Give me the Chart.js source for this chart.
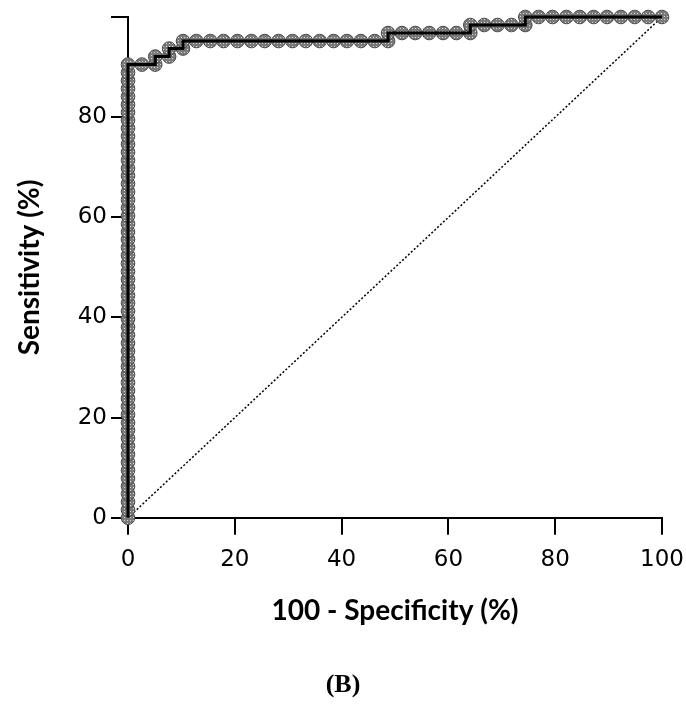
<!DOCTYPE html>
<html>
<head>
<meta charset="utf-8">
<script src="https://cdn.jsdelivr.net/npm/chart.js@4"></script>
<style>
  html, body { margin: 0; padding: 0; background: #fff; }
</style>
</head>
<body>
<canvas id="roc" width="686" height="724"></canvas>
<script>
// ROC curve points: 100 - specificity (%) and sensitivity (%)
const fpr = [
    0, 0, 0, 0, 0, 0, 0, 0, 0, 0,
    0, 0, 0, 0, 0, 0, 0, 0, 0, 0,
    0, 0, 0, 0, 0, 0, 0, 0, 0, 0,
    0, 0, 0, 0, 0, 0, 0, 0, 0, 0,
    0, 0, 0, 0, 0, 0, 0, 0, 0, 0,
    0, 0, 0, 0, 0, 0, 0, 0,
    2.6, 5.1, 5.1, 7.7, 7.7, 10.3, 10.3,
    12.8, 15.4, 17.9, 20.5, 23.1, 25.6, 28.2, 30.8, 33.3, 35.9, 38.5, 41.0, 43.6, 46.2, 48.7,
    48.7, 51.3, 53.8, 56.4, 59.0, 61.5, 64.1,
    64.1, 66.7, 69.2, 71.8, 74.4,
    74.4, 76.9, 79.5, 82.1, 84.6, 87.2, 89.7, 92.3, 94.9, 97.4, 100
];
const tpr = [
    0, 1.6, 3.2, 4.8, 6.3, 7.9, 9.5, 11.1, 12.7, 14.3,
    15.9, 17.5, 19.0, 20.6, 22.2, 23.8, 25.4, 27.0, 28.6, 30.2,
    31.7, 33.3, 34.9, 36.5, 38.1, 39.7, 41.3, 42.9, 44.4, 46.0,
    47.6, 49.2, 50.8, 52.4, 54.0, 55.6, 57.1, 58.7, 60.3, 61.9,
    63.5, 65.1, 66.7, 68.3, 69.8, 71.4, 73.0, 74.6, 76.2, 77.8,
    79.4, 81.0, 82.5, 84.1, 85.7, 87.3, 88.9, 90.5,
    90.5, 90.5, 92.1, 92.1, 93.7, 93.7, 95.2,
    95.2, 95.2, 95.2, 95.2, 95.2, 95.2, 95.2, 95.2, 95.2, 95.2, 95.2, 95.2, 95.2, 95.2, 95.2,
    96.8, 96.8, 96.8, 96.8, 96.8, 96.8, 96.8,
    98.4, 98.4, 98.4, 98.4, 98.4,
    100, 100, 100, 100, 100, 100, 100, 100, 100, 100, 100
];
// chance line
const diagX = [0, 100];
const diagY = [0, 100];

const BLACK = '#000';
const TICK_FONT = { family: 'DejaVu Sans', size: 23 };
const TITLE_FONT = { family: 'Lato', size: 28, weight: 'bold' };

// halftone grey fill for the markers
const tile = document.createElement('canvas');
tile.width = 3;
tile.height = 3;
const tctx = tile.getContext('2d');
tctx.fillStyle = '#7a7a7a';
tctx.fillRect(0, 0, 3, 3);
tctx.fillStyle = '#d8d8d8';
tctx.fillRect(1, 1, 1, 1);
const dotFill = tctx.createPattern(tile, 'repeat');

const rocPoints = fpr.map((x, i) => ({ x: x, y: tpr[i] }));
const diagPoints = diagX.map((x, i) => ({ x: x, y: diagY[i] }));

const data = {
    datasets: [
        {
            label: 'ROC line',
            data: rocPoints,
            showLine: true,
            borderColor: BLACK,
            borderWidth: 3,
            pointRadius: 0,
            clip: false,
        },
        {
            label: 'ROC points',
            data: rocPoints,
            showLine: false,
            pointRadius: 6.8,
            pointBackgroundColor: dotFill,
            pointBorderColor: '#4a4a4a',
            pointBorderWidth: 1,
            clip: false,
        },
        {
            label: 'Chance',
            data: diagPoints,
            showLine: true,
            borderColor: BLACK,
            borderWidth: 1.5,
            borderDash: [2, 2],
            pointRadius: 0,
            clip: false,
        }
    ]
};

const axisGrid = {
    drawOnChartArea: false,
    drawTicks: true,
    tickLength: 17,
    tickColor: BLACK,
    tickWidth: 2,
    lineWidth: 2,
};

const config = {
    type: 'scatter',
    data: data,
    options: {
        responsive: false,
        animation: false,
        devicePixelRatio: 1,
        layout: { padding: { top: 17, right: 0, left: 0, bottom: 0 } },
        plugins: {
            legend: { display: false },
            tooltip: { enabled: false },
            title: {
                display: true,
                position: 'bottom',
                text: '(B)',
                color: BLACK,
                font: { family: 'Liberation Serif', size: 26, weight: 'bold' },
                padding: { top: 42, bottom: 23 }
            }
        },
        scales: {
            x: {
                type: 'linear',
                min: 0,
                max: 100,
                ticks: { stepSize: 20, font: TICK_FONT, color: BLACK, padding: 11 },
                grid: axisGrid,
                border: { color: BLACK, width: 2 },
                title: {
                    display: true,
                    text: '100 - Specificity (%)',
                    color: BLACK,
                    font: TITLE_FONT,
                    padding: { top: 6, bottom: 0 }
                },
                afterFit: (scale) => {
                    scale.height = 110;
                    scale.paddingLeft = 0;
                    scale.paddingRight = 24;
                }
            },
            y: {
                type: 'linear',
                min: 0,
                max: 100,
                ticks: {
                    stepSize: 20,
                    font: TICK_FONT,
                    color: BLACK,
                    padding: 4,
                    callback: (v) => v === 100 ? '' : v
                },
                grid: axisGrid,
                border: { color: BLACK, width: 2 },
                title: {
                    display: true,
                    text: 'Sensitivity (%)',
                    color: BLACK,
                    font: TITLE_FONT,
                    padding: { top: 13, bottom: 0 }
                },
                afterFit: (scale) => {
                    scale.width = 128;
                    scale.paddingTop = 0;
                    scale.paddingBottom = 0;
                }
            }
        }
    }
};

new Chart(document.getElementById('roc'), config);
</script>
</body>
</html>
